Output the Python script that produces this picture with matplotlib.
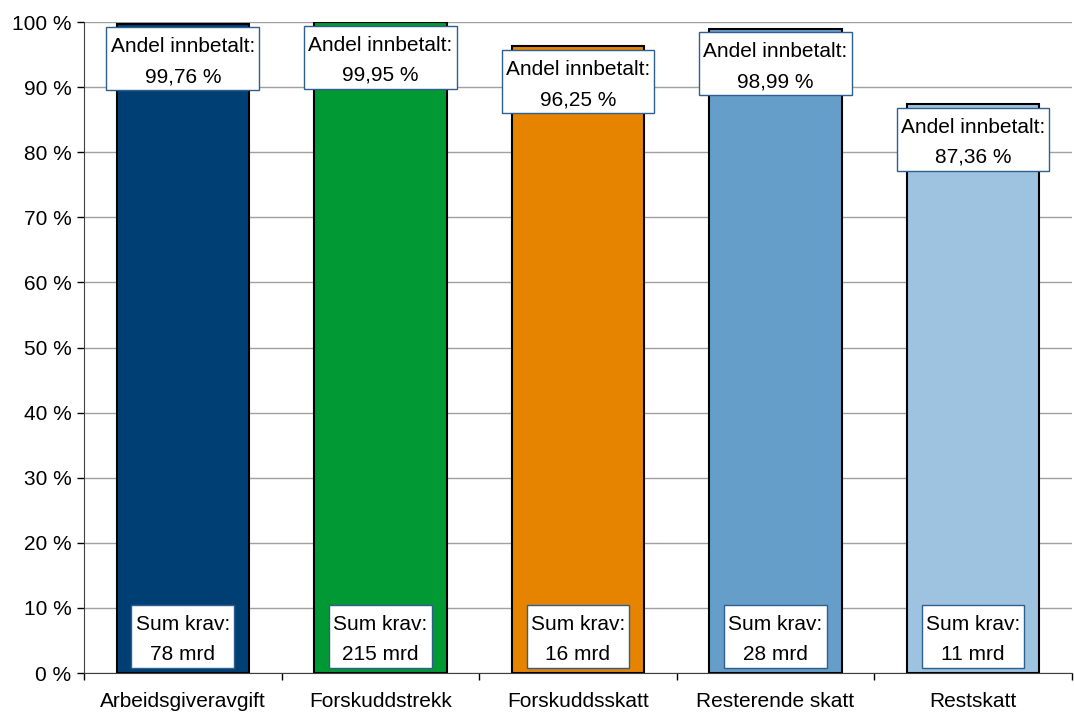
import matplotlib.pyplot as plt
from matplotlib.path import Path
from matplotlib.ticker import FixedLocator, FuncFormatter

categories = ['Arbeidsgiveravgift', 'Forskuddstrekk', 'Forskuddsskatt',
              'Resterende skatt', 'Restskatt']
andel = [99.76, 99.95, 96.25, 98.99, 87.36]
andel_labels = ['99,76 %', '99,95 %', '96,25 %', '98,99 %', '87,36 %']
sum_krav = ['78 mrd', '215 mrd', '16 mrd', '28 mrd', '11 mrd']
colors = ['#003F73', '#009933', '#E68400', '#659FC9', '#9DC3E0']

plt.rcParams['font.family'] = ['Liberation Sans', 'DejaVu Sans']


def label_box(x0, y0, width, height, mutation_size):
    # narrow padding left/right, more room above the text than below
    px = 0.2 * mutation_size
    top = 0.47 * mutation_size
    bottom = 0.2 * mutation_size
    verts = [(x0 - px, y0 - bottom), (x0 + width + px, y0 - bottom),
             (x0 + width + px, y0 + height + top), (x0 - px, y0 + height + top),
             (x0 - px, y0 - bottom)]
    return Path(verts, closed=True)


fig = plt.figure(figsize=(10.74, 7.13), dpi=100)
ax = fig.add_axes([0.0782, 0.0561, 0.9198, 0.913])

x = list(range(len(categories)))
ax.bar(x, andel, width=0.67, color=colors, edgecolor='black', linewidth=1.5, zorder=2)

box_style = dict(boxstyle=label_box, facecolor='white', edgecolor='#2F5F8F', linewidth=1)
for xi, v, lab, krav in zip(x, andel, andel_labels, sum_krav):
    ax.annotate('Andel innbetalt:\n' + lab, xy=(xi, v), xytext=(0, -9.6),
                textcoords='offset points', ha='center', va='top',
                fontsize=15, linespacing=1.75, bbox=box_style, zorder=3)
    ax.annotate('Sum krav:\n' + krav, xy=(xi, 0), xytext=(0, 6.6),
                textcoords='offset points', ha='center', va='bottom',
                fontsize=15, linespacing=1.75, bbox=box_style, zorder=3)

ax.set_xlim(-0.5, len(categories) - 0.5)
ax.set_ylim(0, 100)
ax.set_yticks(range(0, 101, 10))
ax.yaxis.set_major_formatter(FuncFormatter(lambda v, p: '%d %%' % v))
ax.yaxis.grid(True, color='#A0A0A0', linewidth=1, zorder=0)
ax.set_axisbelow(True)

ax.set_xticks(x)
ax.set_xticklabels(categories)
ax.xaxis.set_minor_locator(FixedLocator([i - 0.5 for i in range(len(categories) + 1)]))
ax.tick_params(axis='x', which='major', length=0, pad=14, labelsize=15)
ax.tick_params(axis='x', which='minor', length=5, width=1, direction='out')
ax.tick_params(axis='y', length=5, width=1, labelsize=15, pad=4)

for s in ['top', 'right']:
    ax.spines[s].set_visible(False)
ax.spines['left'].set_color('#404040')
ax.spines['bottom'].set_color('#404040')

fig.savefig('out.png', dpi=100)
